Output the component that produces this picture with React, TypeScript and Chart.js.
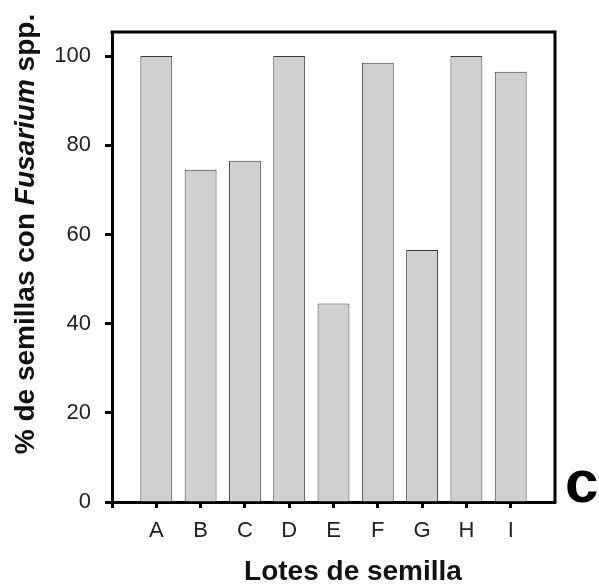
import { useEffect, useRef } from 'react';
import { Chart, registerables } from 'chart.js';

Chart.register(...registerables);

// Seed lots and the share of seeds carrying Fusarium spp. (%)
const lots = ['A', 'B', 'C', 'D', 'E', 'F', 'G', 'H', 'I'];
const infectedPct = [100, 74.5, 76.5, 100, 44.5, 98.5, 56.5, 100, 96.5];
const yTickValues = [0, 20, 40, 60, 80, 100];
const xTitle = 'Lotes de semilla';
const yTitleParts = [
  { text: '% de semillas con ', italic: false },
  { text: 'Fusarium', italic: true },
  { text: ' spp.', italic: false },
];
const panelLetter = 'c';

const FONT = '"Liberation Sans", Arial, sans-serif';

// Empty slots at both ends leave one category of space beside the frame.
const axisLabels = ['', ...lots, ''];
const axisValues = [null, ...infectedPct, null];

const decor = {
  id: 'decor',
  afterDraw(chart: any) {
    const { ctx, chartArea: a } = chart;
    ctx.save();

    // top and right sides of the frame
    ctx.strokeStyle = '#000';
    ctx.lineWidth = 3;
    ctx.lineCap = 'square';
    ctx.beginPath();
    ctx.moveTo(a.left, a.top);
    ctx.lineTo(a.right, a.top);
    ctx.lineTo(a.right, a.bottom);
    ctx.stroke();

    ctx.fillStyle = '#111';
    ctx.textBaseline = 'alphabetic';

    // x-axis title
    ctx.font = `bold 28px ${FONT}`;
    ctx.textAlign = 'center';
    ctx.fillText(xTitle, 353, 580);

    // y-axis title, rotated, with the genus in italics
    const fontFor = (italic: boolean) => `${italic ? 'italic ' : ''}bold 28px ${FONT}`;
    let total = 0;
    for (const p of yTitleParts) {
      ctx.font = fontFor(p.italic);
      total += ctx.measureText(p.text).width;
    }
    ctx.save();
    ctx.translate(34, 234);
    ctx.rotate(-Math.PI / 2);
    ctx.textAlign = 'left';
    let x = -total / 2;
    for (const p of yTitleParts) {
      ctx.font = fontFor(p.italic);
      ctx.fillText(p.text, x, 0);
      x += ctx.measureText(p.text).width;
    }
    ctx.restore();

    // panel letter
    ctx.font = `900 60px ${FONT}`;
    ctx.textAlign = 'left';
    ctx.fillStyle = '#000';
    ctx.fillText(panelLetter, 565, 502);

    ctx.restore();
  },
};

export default function App() {
  const canvasRef = useRef<HTMLCanvasElement | null>(null);

  useEffect(() => {
    const canvas = canvasRef.current;
    if (!canvas) return;
    const chart = new Chart(canvas, {
      type: 'bar',
      data: {
        labels: axisLabels,
        datasets: [
          {
            data: axisValues as any,
            backgroundColor: '#d0d0d0',
            borderColor: '#3a3a3a',
            borderWidth: 1,
            barPercentage: 0.72,
            categoryPercentage: 1,
          },
        ],
      },
      options: {
        responsive: false,
        maintainAspectRatio: false,
        animation: false,
        devicePixelRatio: 1,
        layout: { padding: { top: 32, right: 44, left: 0, bottom: 0 } },
        plugins: {
          legend: { display: false },
          tooltip: { enabled: false },
        },
        scales: {
          x: {
            type: 'category',
            offset: false,
            afterFit: (s: any) => {
              s.height = 83;
            },
            grid: {
              offset: false,
              drawOnChartArea: false,
              drawTicks: true,
              tickLength: 6,
              tickWidth: 3,
              tickColor: (c: any) =>
                c.index === axisLabels.length - 1 ? 'rgba(0,0,0,0)' : '#000',
            },
            border: { display: true, color: '#000', width: 3 },
            ticks: {
              autoSkip: false,
              maxRotation: 0,
              padding: 10,
              color: '#222',
              font: { family: FONT, size: 22 },
            },
          },
          y: {
            min: 0,
            max: 105.4,
            afterFit: (s: any) => {
              s.width = 112;
            },
            afterBuildTicks: (s: any) => {
              s.ticks = yTickValues.map((v) => ({ value: v }));
            },
            grid: {
              drawOnChartArea: false,
              drawTicks: true,
              tickLength: 7,
              tickWidth: 3,
              tickColor: '#000',
            },
            border: { display: true, color: '#000', width: 3 },
            ticks: {
              padding: 14,
              color: '#222',
              font: { family: FONT, size: 22 },
            },
          },
        },
      },
      plugins: [decor],
    });
    return () => chart.destroy();
  }, []);

  return (
    <div style={{ position: 'fixed', left: 0, top: 0, width: 599, height: 585, background: '#fff' }}>
      <canvas ref={canvasRef} width={599} height={585} style={{ display: 'block' }} />
    </div>
  );
}
